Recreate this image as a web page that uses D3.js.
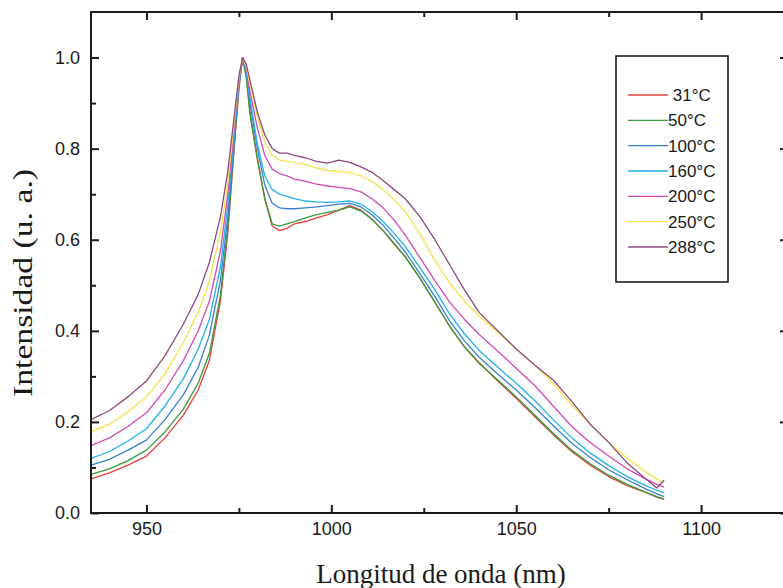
<!DOCTYPE html>
<html>
<head>
<meta charset="utf-8">
<script src="https://cdn.jsdelivr.net/npm/d3@7"></script>
<style>
  body { margin: 0; background: #fff; }
  svg { display: block; }
</style>
</head>
<body>
<svg id="chart" width="783" height="588"></svg>
<script>
// wavelength grid (nm) shared by every spectrum
const wavelengths = [935, 940, 945, 950, 955, 960, 964, 967, 970, 972, 974, 975, 976, 977, 978, 980, 982, 984, 986, 988,
  990, 993, 996, 999, 1002, 1005, 1008, 1011, 1014, 1017, 1020, 1024, 1028, 1032, 1036, 1040, 1045, 1050, 1055, 1060,
  1065, 1070, 1075, 1080, 1085, 1088, 1090];

const t31 = [0.075, 0.088, 0.105, 0.125, 0.165, 0.215, 0.27, 0.335, 0.465, 0.615, 0.83, 0.93, 1.0, 0.96, 0.88, 0.78, 0.69, 0.63, 0.62, 0.625,
  0.635, 0.64, 0.648, 0.655, 0.665, 0.675, 0.665, 0.645, 0.62, 0.59, 0.563, 0.515, 0.463, 0.41, 0.365, 0.33, 0.29, 0.252, 0.212, 0.172,
  0.135, 0.105, 0.08, 0.06, 0.045, 0.035, 0.03];
const t50 = [0.085, 0.097, 0.115, 0.138, 0.178, 0.228, 0.285, 0.35, 0.478, 0.628, 0.835, 0.935, 1.0, 0.955, 0.875, 0.775, 0.69, 0.635, 0.63, 0.635,
  0.64, 0.648, 0.655, 0.66, 0.665, 0.672, 0.663, 0.645, 0.62, 0.592, 0.562, 0.515, 0.463, 0.41, 0.365, 0.328, 0.292, 0.255, 0.215, 0.175,
  0.138, 0.108, 0.083, 0.063, 0.046, 0.036, 0.031];
const t100 = [0.105, 0.118, 0.138, 0.16, 0.205, 0.26, 0.32, 0.39, 0.51, 0.65, 0.845, 0.94, 1.0, 0.965, 0.9, 0.8, 0.72, 0.68, 0.67, 0.668,
  0.668, 0.67, 0.672, 0.675, 0.678, 0.68, 0.672, 0.655, 0.632, 0.603, 0.573, 0.525, 0.475, 0.422, 0.378, 0.342, 0.305, 0.27, 0.232, 0.192,
  0.153, 0.122, 0.095, 0.073, 0.053, 0.042, 0.036];
const t160 = [0.12, 0.135, 0.158, 0.185, 0.235, 0.295, 0.36, 0.425, 0.54, 0.675, 0.855, 0.945, 1.0, 0.97, 0.91, 0.81, 0.74, 0.71, 0.7, 0.695,
  0.69, 0.685, 0.683, 0.682, 0.683, 0.685, 0.678, 0.662, 0.64, 0.614, 0.585, 0.538, 0.49, 0.437, 0.393, 0.357, 0.32, 0.285, 0.247, 0.205,
  0.165, 0.132, 0.104, 0.08, 0.06, 0.05, 0.044];
const t200 = [0.148, 0.165, 0.19, 0.22, 0.27, 0.335, 0.4, 0.465, 0.575, 0.7, 0.87, 0.95, 1.0, 0.975, 0.925, 0.845, 0.785, 0.755, 0.745, 0.74,
  0.733, 0.728, 0.722, 0.718, 0.715, 0.712, 0.705, 0.69, 0.67, 0.643, 0.61, 0.56, 0.51, 0.463, 0.425, 0.392, 0.355, 0.318, 0.28, 0.235,
  0.19, 0.155, 0.125, 0.097, 0.075, 0.063, 0.057];
const t250 = [0.178, 0.195, 0.222, 0.255, 0.305, 0.375, 0.44, 0.51, 0.615, 0.725, 0.88, 0.955, 1.0, 0.98, 0.94, 0.87, 0.815, 0.785, 0.775, 0.772,
  0.77, 0.765, 0.758, 0.752, 0.75, 0.748, 0.74, 0.728, 0.71, 0.688, 0.662, 0.612, 0.555, 0.505, 0.465, 0.432, 0.397, 0.36, 0.325, 0.285,
  0.237, 0.195, 0.155, 0.12, 0.09, 0.075, 0.066];
const t288 = [0.205, 0.225, 0.255, 0.29, 0.345, 0.415, 0.48, 0.55, 0.65, 0.75, 0.89, 0.96, 1.0, 0.985, 0.95, 0.88, 0.83, 0.8, 0.79, 0.79,
  0.785, 0.78, 0.772, 0.768, 0.775, 0.77, 0.76, 0.748, 0.73, 0.71, 0.69, 0.65, 0.6, 0.545, 0.49, 0.44, 0.4, 0.36, 0.325, 0.292,
  0.245, 0.195, 0.155, 0.11, 0.075, 0.055, 0.072];

const seriesLabels = ['\u00a031°C', '50°C', '100°C', '160°C', '200°C', '250°C', '288°C'];
const seriesColors = ['#e2403a', '#3a9a3e', '#3a7fd0', '#22b2e8', '#d24bb4', '#f6e24a', '#8c4a82'];
const seriesValues = [t31, t50, t100, t160, t200, t250, t288];

const xMajor = [950, 1000, 1050, 1100];
const xMinor = [975, 1025, 1075, 1125];
const yMajor = [0, 0.2, 0.4, 0.6, 0.8, 1.0];
const yMinor = [0.1, 0.3, 0.5, 0.7, 0.9];

const margin = { left: 91, top: 12, right: 788, bottom: 513 };
const axisColor = '#1c1c1c';

const svg = d3.select('#chart');

const x = d3.scaleLinear().domain([935, 1123.5]).range([margin.left, margin.right]);
const y = d3.scaleLinear().domain([0, 1.1]).range([margin.bottom, margin.top]);

// spectra
const line = d3.line()
  .x(d => x(d[0]))
  .y(d => y(d[1]));

const g = svg.append('g');
seriesValues.forEach((vals, i) => {
  g.append('path')
    .datum(wavelengths.map((w, j) => [w, vals[j]]))
    .attr('fill', 'none')
    .attr('stroke', seriesColors[i])
    .attr('stroke-width', 1.3)
    .attr('stroke-linejoin', 'round')
    .attr('d', line);
});

// axes, ticks pointing inward
function styleAxis(sel) {
  sel.select('.domain').remove();
  sel.selectAll('line').attr('stroke', axisColor).attr('stroke-width', 2);
  sel.selectAll('text')
    .attr('fill', '#1a1a1a')
    .style('font-family', '"Liberation Sans", Arial, sans-serif')
    .style('font-size', '18px');
}

svg.append('g')
  .attr('transform', `translate(0,${margin.bottom})`)
  .call(d3.axisBottom(x).tickValues(xMajor).tickSize(-8).tickPadding(9).tickFormat(d3.format('d')))
  .call(styleAxis);
svg.append('g')
  .attr('transform', `translate(0,${margin.bottom})`)
  .call(d3.axisBottom(x).tickValues(xMinor).tickSize(-5).tickFormat(''))
  .call(styleAxis);
svg.append('g')
  .attr('transform', `translate(0,${margin.top})`)
  .call(d3.axisTop(x).tickValues(xMajor).tickSize(-8).tickFormat(''))
  .call(styleAxis);
svg.append('g')
  .attr('transform', `translate(0,${margin.top})`)
  .call(d3.axisTop(x).tickValues(xMinor).tickSize(-5).tickFormat(''))
  .call(styleAxis);

svg.append('g')
  .attr('transform', `translate(${margin.left},0)`)
  .call(d3.axisLeft(y).tickValues(yMajor).tickSize(-8).tickPadding(11).tickFormat(d3.format('.1f')))
  .call(styleAxis);
svg.append('g')
  .attr('transform', `translate(${margin.left},0)`)
  .call(d3.axisLeft(y).tickValues(yMinor).tickSize(-5).tickFormat(''))
  .call(styleAxis);
svg.append('g')
  .attr('transform', `translate(${margin.right},0)`)
  .call(d3.axisRight(y).tickValues(yMajor).tickSize(-8).tickFormat(''))
  .call(styleAxis);
svg.append('g')
  .attr('transform', `translate(${margin.right},0)`)
  .call(d3.axisRight(y).tickValues(yMinor).tickSize(-5).tickFormat(''))
  .call(styleAxis);

// frame
svg.append('rect')
  .attr('x', margin.left)
  .attr('y', margin.top)
  .attr('width', margin.right - margin.left)
  .attr('height', margin.bottom - margin.top)
  .attr('fill', 'none')
  .attr('stroke', axisColor)
  .attr('stroke-width', 2);

// axis titles
svg.append('text')
  .attr('x', 441)
  .attr('y', 583)
  .attr('text-anchor', 'middle')
  .attr('fill', '#1a1a1a')
  .style('font-family', '"Liberation Serif", "Times New Roman", serif')
  .style('font-size', '27px')
  .text('Longitud de onda (nm)');

svg.append('text')
  .attr('transform', 'translate(32,283) rotate(-90)')
  .attr('text-anchor', 'middle')
  .attr('textLength', 228)
  .attr('lengthAdjust', 'spacingAndGlyphs')
  .attr('fill', '#1a1a1a')
  .style('font-family', '"Liberation Serif", "Times New Roman", serif')
  .style('font-size', '27px')
  .text('Intensidad (u. a.)');

// legend
const legend = svg.append('g');
legend.append('rect')
  .attr('x', 616).attr('y', 56)
  .attr('width', 112).attr('height', 226)
  .attr('fill', '#fff')
  .attr('stroke', axisColor)
  .attr('stroke-width', 1.6);

const rowY = d3.scaleLinear().domain([0, 6]).range([95, 247]);
seriesLabels.forEach((lab, i) => {
  legend.append('line')
    .attr('x1', 628).attr('x2', 668)
    .attr('y1', rowY(i)).attr('y2', rowY(i))
    .attr('stroke', seriesColors[i])
    .attr('stroke-width', 1.3);
  legend.append('text')
    .attr('x', 668)
    .attr('y', rowY(i))
    .attr('dy', '0.36em')
    .attr('fill', '#1a1a1a')
    .style('font-family', '"Liberation Sans", Arial, sans-serif')
    .style('font-size', '17px')
    .text(lab);
});
</script>
</body>
</html>
